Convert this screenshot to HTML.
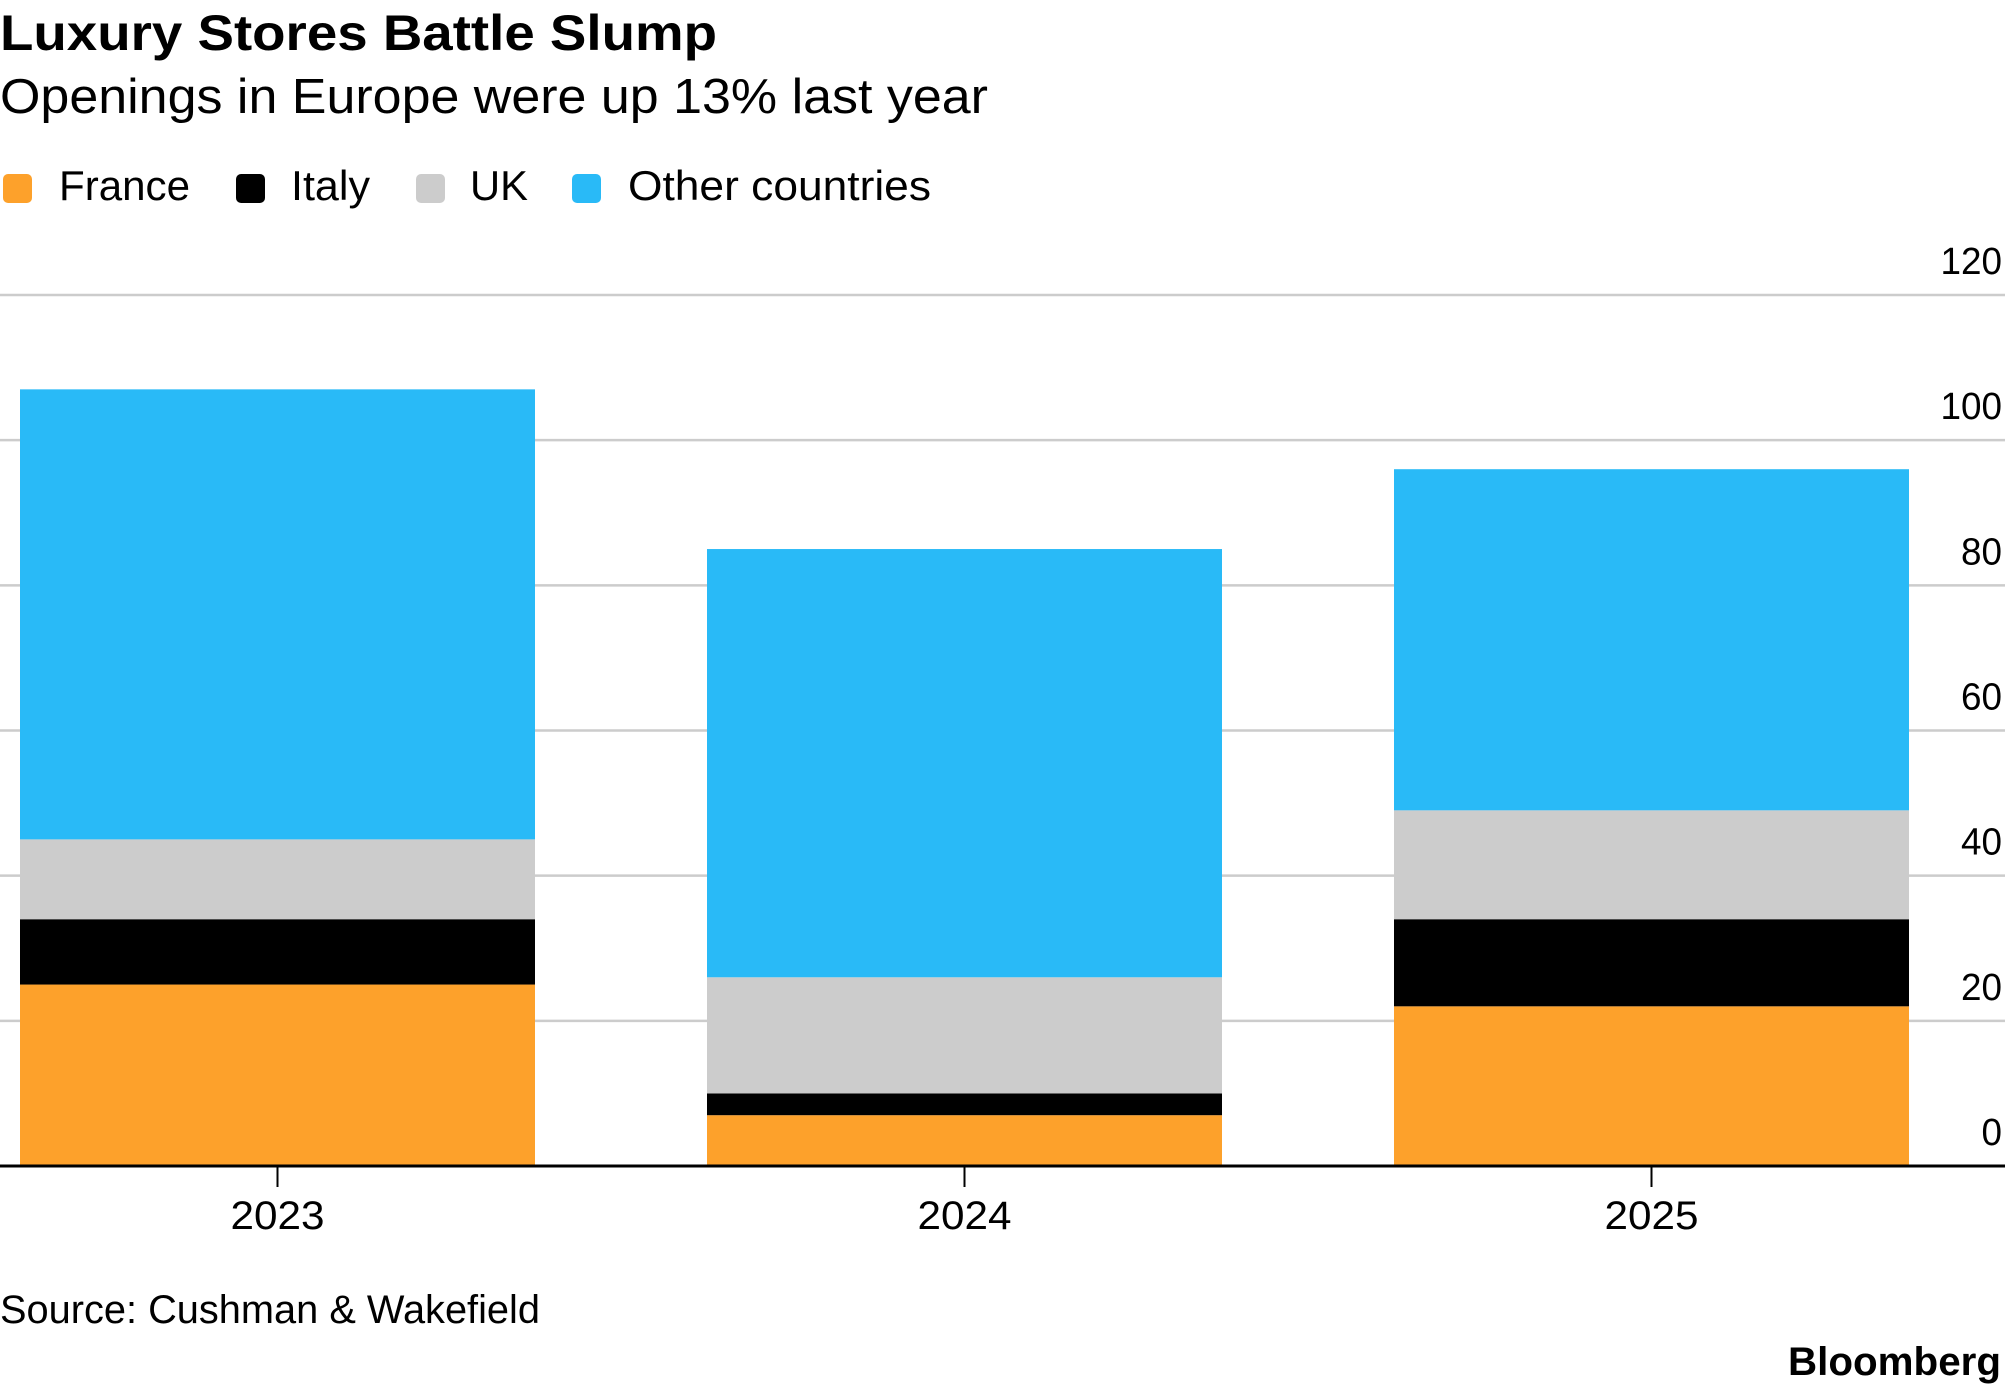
<!DOCTYPE html>
<html><head><meta charset="utf-8"><style>
html,body{margin:0;padding:0;background:#fff;}
svg{display:block;font-family:"Liberation Sans",sans-serif;}
</style></head><body>
<svg id="chart" width="2005" height="1392" viewBox="0 0 2005 1392" xmlns="http://www.w3.org/2000/svg">
<text x="0" y="50" font-size="50" font-weight="bold" textLength="717" lengthAdjust="spacingAndGlyphs">Luxury Stores Battle Slump</text>
<text x="0" y="113" font-size="49" textLength="988" lengthAdjust="spacingAndGlyphs">Openings in Europe were up 13% last year</text>
<g>
<g><rect x="3" y="174" width="29" height="29" rx="5" fill="#FDA12B"/><text x="59" y="200" font-size="42" textLength="131" lengthAdjust="spacingAndGlyphs">France</text></g>
<g><rect x="236" y="174" width="29" height="29" rx="5" fill="#000"/><text x="291" y="200" font-size="42" textLength="79" lengthAdjust="spacingAndGlyphs">Italy</text></g>
<g><rect x="416" y="174" width="29" height="29" rx="5" fill="#CCCCCC"/><text x="470" y="200" font-size="42" textLength="58" lengthAdjust="spacingAndGlyphs">UK</text></g>
<g><rect x="572" y="174" width="29" height="29" rx="5" fill="#29BAF7"/><text x="628" y="200" font-size="42" textLength="303" lengthAdjust="spacingAndGlyphs">Other countries</text></g>
</g>
<g id="grid"></g>
<g id="bars"></g>
<g id="xaxis"></g>
<g id="yaxis"></g>
<text x="0" y="1323" font-size="40" textLength="540" lengthAdjust="spacingAndGlyphs">Source: Cushman &amp; Wakefield</text>
<text x="2001" y="1375" font-size="40" font-weight="bold" text-anchor="end" textLength="213" lengthAdjust="spacingAndGlyphs">Bloomberg</text>
</svg>
<script>
const categories = ["2023", "2024", "2025"];
const france = [25, 7, 22];
const italy = [9, 3, 12];
const uk = [11, 16, 15];
const other = [62, 59, 47];
const yTicks = [0, 20, 40, 60, 80, 100, 120];
const yTickLabels = ["0", "20", "40", "60", "80", "100", "120"];

const NS = "http://www.w3.org/2000/svg";
const y0 = 1166, yTop = 295, yMax = 120;
function y(v){ return y0 - v / yMax * (y0 - yTop); }
const bandStart = 20, bandStep = 687, barW = 515;
function xc(i){ return bandStart + barW/2 + i*bandStep; }
function mk(tag, attrs, parent){ const e=document.createElementNS(NS,tag); for(const k in attrs) e.setAttribute(k,attrs[k]); parent.appendChild(e); return e; }

const grid = document.getElementById('grid');
const yaxis = document.getElementById('yaxis');
yTicks.forEach((t,i)=>{
  if(t>0){
    const l = mk('line',{x1:0,x2:2005,y1:y(t),y2:y(t),stroke:'#cccccc','stroke-width':2.5},grid);
    
    
  }
  const lab = yTickLabels[i];
  const tx = mk('text',{x:2002,y:y(t)-21,'font-size':38,'text-anchor':'end',textLength:lab.length*20.5,lengthAdjust:'spacingAndGlyphs'},yaxis);
  tx.textContent = lab;
  
  
});

const bars = document.getElementById('bars');
const series = [["france",france,"#FDA12B"],["italy",italy,"#000000"],["uk",uk,"#CCCCCC"],["other",other,"#29BAF7"]];
categories.forEach((c,i)=>{
  let base = 0;
  series.forEach(s=>{
    const v = s[1][i];
    const r = mk('rect',{x:xc(i)-barW/2,y:y(base+v),width:barW,height:y(base)-y(base+v),fill:s[2]},bars);
    
    
    base += v;
  });
});

const xaxis = document.getElementById('xaxis');
const ax = mk('line',{x1:0,x2:2005,y1:y0,y2:y0,stroke:'#000','stroke-width':3},xaxis);


categories.forEach((c,i)=>{
  const tk = mk('line',{x1:xc(i),x2:xc(i),y1:y0,y2:y0+21,stroke:'#000','stroke-width':2},xaxis);
  
  
  const t = mk('text',{x:xc(i),y:1229,'font-size':40,'text-anchor':'middle',textLength:94,lengthAdjust:'spacingAndGlyphs'},xaxis);
  t.textContent = c;
  
  
});
</script>
</body></html>
